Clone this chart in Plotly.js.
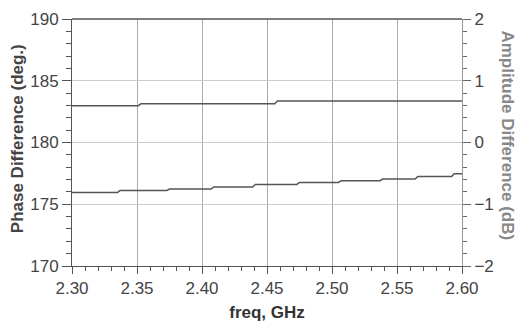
<!DOCTYPE html>
<html>
<head>
<meta charset="utf-8">
<script src="https://cdn.plot.ly/plotly-3.0.1.min.js"></script>
<style>html,body{margin:0;padding:0;background:#fff;}#chart{width:522px;height:325px;}</style>
</head>
<body>
<div id="chart"></div>
<script>
// Phase difference (deg.), left axis
const phaseFreq = [2.300, 2.351, 2.353, 2.456, 2.458, 2.600];
const phaseDeg  = [182.97, 182.97, 183.13, 183.13, 183.37, 183.37];

// Amplitude difference (dB), right axis
const ampFreq = [2.300, 2.335, 2.337, 2.373, 2.375, 2.407, 2.409, 2.439, 2.441, 2.473,
                 2.475, 2.505, 2.507, 2.537, 2.539, 2.564, 2.566, 2.592, 2.594, 2.600];
const ampDb   = [-0.808, -0.808, -0.776, -0.776, -0.753, -0.753, -0.721, -0.721, -0.679, -0.679,
                 -0.647, -0.647, -0.619, -0.619, -0.592, -0.592, -0.550, -0.550, -0.506, -0.506];

const xTickVals = [2.30, 2.35, 2.40, 2.45, 2.50, 2.55, 2.60];
const xTickText = ["2.30", "2.35", "2.40", "2.45", "2.50", "2.55", "2.60"];

const xTitle = "freq, GHz";
const yTitle = "Phase Difference (deg.)";
const y2Title = "Amplitude Difference (dB)";

const tickFont = {family: "Liberation Sans, Arial, sans-serif", size: 17, color: "#444"};

const traces = [
  {x: phaseFreq, y: phaseDeg, type: "scatter", mode: "lines",
   line: {color: "#555", width: 1.5}, yaxis: "y", hoverinfo: "skip"},
  {x: ampFreq, y: ampDb, type: "scatter", mode: "lines",
   line: {color: "#555", width: 1.5}, yaxis: "y2", hoverinfo: "skip"}
];

const layout = {
  width: 522, height: 325,
  margin: {l: 72, r: 60, t: 19, b: 59},
  paper_bgcolor: "#fff", plot_bgcolor: "#fff",
  showlegend: false,
  xaxis: {
    range: [2.30, 2.60], tickvals: xTickVals, ticktext: xTickText,
    ticks: "outside", ticklen: 7, tickcolor: "#555", tickwidth: 1,
    showgrid: true, gridcolor: "#aaa", gridwidth: 1,
    showline: true, linecolor: "#555", linewidth: 1, mirror: false,
    zeroline: false, tickfont: tickFont,
    minor: {dtick: 0.01, tick0: 2.30, ticks: "outside", ticklen: 4, tickcolor: "#555", showgrid: false},
    title: {text: "<b>" + xTitle + "</b>", font: {family: "Liberation Sans, Arial, sans-serif", size: 17, color: "#333"}, standoff: 8}
  },
  yaxis: {
    range: [170, 190], dtick: 5, tick0: 170,
    ticks: "outside", ticklen: 9, tickcolor: "#555", tickwidth: 1,
    showgrid: true, gridcolor: "#ccc", gridwidth: 1,
    showline: true, linecolor: "#555", linewidth: 1,
    zeroline: false, tickfont: tickFont,
    minor: {dtick: 1, ticks: "outside", ticklen: 5, tickcolor: "#555", showgrid: false},
    title: {text: ""}
  },
  yaxis2: {
    overlaying: "y", side: "right",
    range: [-2, 2], dtick: 1, tick0: -2,
    ticks: "outside", ticklen: 8, tickcolor: "#666", tickwidth: 1,
    showgrid: false, showline: true, linecolor: "#999", linewidth: 1,
    zeroline: false, tickfont: tickFont,
    minor: {dtick: 0.2, ticks: "outside", ticklen: 4, tickcolor: "#666", showgrid: false},
    title: {text: ""}
  },
  shapes: [
    {type: "line", xref: "paper", yref: "paper", x0: 0, x1: 1, y0: 1, y1: 1,
     line: {color: "#555", width: 1.5}}
  ],
  annotations: [
    {text: "<b>" + yTitle + "</b>", xref: "paper", yref: "paper", x: -0.14, y: 0.515,
     xanchor: "center", yanchor: "middle", textangle: -90, showarrow: false,
     font: {family: "Liberation Sans, Arial, sans-serif", size: 17, color: "#444"}},
    {text: "<b>" + y2Title + "</b>", xref: "paper", yref: "paper", x: 1.117, y: 0.53,
     xanchor: "center", yanchor: "middle", textangle: 90, showarrow: false,
     font: {family: "Liberation Sans, Arial, sans-serif", size: 17, color: "#888"}}
  ]
};

Plotly.newPlot("chart", traces, layout, {displayModeBar: false, staticPlot: true});
</script>
</body>
</html>
